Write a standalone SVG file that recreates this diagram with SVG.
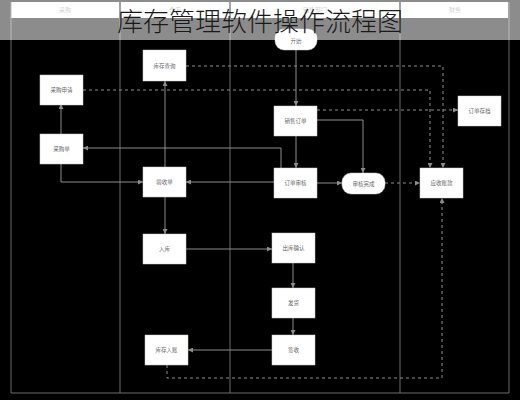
<svg xmlns="http://www.w3.org/2000/svg" width="520" height="400" viewBox="0 0 520 400">
<style>
.lane{stroke:#6a6a6a;stroke-width:1;fill:none}
.hdr{fill:#ffffff}
.htxt{font-family:"Noto Sans CJK SC","Noto Sans",sans-serif;font-size:6px;fill:#9a9a9a;text-anchor:middle}
.box{fill:#ffffff;stroke:#cfcfcf;stroke-width:0.5}
.ntxt{font-family:"Noto Sans CJK SC","Noto Sans",sans-serif;font-size:5.5px;fill:#666;text-anchor:middle}
.ln{stroke:#8c8c8c;stroke-width:1;fill:none}
.dl{stroke:#8c8c8c;stroke-width:1;fill:none;stroke-dasharray:3 3}
.title{font-family:"Noto Sans CJK SC","Noto Sans",sans-serif;font-size:26px;font-weight:200;fill:#1a1a1a;text-anchor:middle}
</style>
<defs>
<marker id="ah" markerWidth="5" markerHeight="5" refX="5" refY="2.5" orient="auto" markerUnits="userSpaceOnUse">
<path d="M0,0 L5,2.5 L0,5 z" fill="#8c8c8c"/>
</marker>
</defs>
<rect x="0" y="0" width="520" height="400" fill="#000"/>
<g id="lanes">
<rect class="hdr" x="11" y="2" width="108" height="16"/>
<rect class="hdr" x="121" y="2" width="108" height="16"/>
<rect class="hdr" x="231" y="2" width="168" height="16"/>
<rect class="hdr" x="401" y="2" width="107" height="16"/>
<text class="htxt" x="65" y="12">采购</text>
<text class="htxt" x="175" y="12">仓库</text>
<text class="htxt" x="315" y="12">销售部门</text>
<text class="htxt" x="455" y="12">财务</text>
<line class="lane" x1="11" y1="2" x2="11" y2="393"/>
<line class="lane" x1="120" y1="2" x2="120" y2="393"/>
<line class="lane" x1="230" y1="2" x2="230" y2="393"/>
<line class="lane" x1="400" y1="2" x2="400" y2="393"/>
<line class="lane" x1="509" y1="2" x2="509" y2="393"/>
<line class="lane" x1="11" y1="393" x2="509" y2="393"/>
</g>
<g id="connectors">
<path class="dl" d="M83,90 H430 V168" marker-end="url(#ah)"/>
<path class="dl" d="M186,66 H443 V168" marker-end="url(#ah)"/>
<path class="ln" d="M165,167 V81" marker-end="url(#ah)"/>
<path class="ln" d="M61,134 V104" marker-end="url(#ah)"/>
<path class="ln" d="M296,50 V106" marker-end="url(#ah)"/>
<path class="dl" d="M317,110 H458" marker-end="url(#ah)"/>
<path class="ln" d="M317,120 H363 V173" marker-end="url(#ah)"/>
<path class="ln" d="M296,136 V168" marker-end="url(#ah)"/>
<path class="ln" d="M317,183 H342" marker-end="url(#ah)"/>
<path class="dl" d="M385,183 H420" marker-end="url(#ah)"/>
<path class="ln" d="M281,168 V148 H83" marker-end="url(#ah)"/>
<path class="ln" d="M61,164 V182 H143" marker-end="url(#ah)"/>
<path class="ln" d="M274,182 H186" marker-end="url(#ah)"/>
<path class="ln" d="M165,197 V234" marker-end="url(#ah)"/>
<path class="ln" d="M186,249 H272" marker-end="url(#ah)"/>
<path class="ln" d="M293,263 V288" marker-end="url(#ah)"/>
<path class="ln" d="M293,318 V335" marker-end="url(#ah)"/>
<path class="ln" d="M272,350 H188" marker-end="url(#ah)"/>
<path class="dl" d="M167,365 V378 H442 V198" marker-end="url(#ah)"/>
</g>
<g id="nA"><rect class="box" x="40" y="75" width="43" height="30"/><text class="ntxt" x="61.5" y="92">采购申请</text></g>
<g id="nB"><rect class="box" x="40" y="134" width="43" height="30"/><text class="ntxt" x="61.5" y="151">采购单</text></g>
<g id="nC"><rect class="box" x="143" y="50" width="43" height="31"/><text class="ntxt" x="164.5" y="67.5">库存查询</text></g>
<g id="nD"><rect class="box" x="143" y="167" width="43" height="30"/><text class="ntxt" x="164.5" y="184">验收单</text></g>
<g id="nE"><rect class="box" x="143" y="234" width="43" height="30"/><text class="ntxt" x="164.5" y="251">入库</text></g>
<g id="nF"><rect class="box" x="145" y="335" width="43" height="30"/><text class="ntxt" x="166.5" y="352">库存入账</text></g>
<g id="nStart"><rect class="box" x="275" y="29" width="42" height="21" rx="9"/><text class="ntxt" x="296" y="43">开始</text></g>
<g id="nG"><rect class="box" x="274" y="106" width="43" height="30"/><text class="ntxt" x="295.5" y="123">销售订单</text></g>
<g id="nH"><rect class="box" x="274" y="168" width="43" height="30"/><text class="ntxt" x="295.5" y="185">订单审核</text></g>
<g id="nI"><rect class="box" x="342" y="173" width="43" height="21" rx="9"/><text class="ntxt" x="363.5" y="185.5">审核完成</text></g>
<g id="nJ"><rect class="box" x="272" y="233" width="43" height="30"/><text class="ntxt" x="293.5" y="250">出库确认</text></g>
<g id="nK"><rect class="box" x="272" y="288" width="43" height="30"/><text class="ntxt" x="293.5" y="305">发货</text></g>
<g id="nL"><rect class="box" x="272" y="335" width="43" height="30"/><text class="ntxt" x="293.5" y="352">签收</text></g>
<g id="nM"><rect class="box" x="420" y="168" width="43" height="30"/><text class="ntxt" x="441.5" y="185">应收账款</text></g>
<g id="nN"><rect class="box" x="458" y="96" width="43" height="30"/><text class="ntxt" x="479.5" y="113">订单存档</text></g>
<g id="titleband">
<rect x="0" y="0" width="520" height="40" fill="#ffffff" fill-opacity="0.55"/>
<text class="title" x="260" y="31">库存管理软件操作流程图</text>
</g>
</svg>
